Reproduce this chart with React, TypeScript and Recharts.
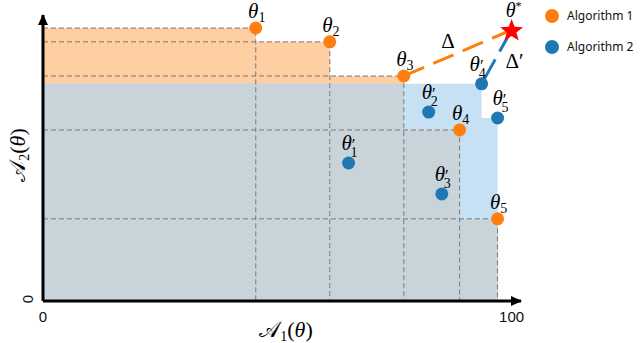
import { ComposedChart, Area, Line, Scatter, XAxis, YAxis, Legend } from "recharts"

// values (x: A1, y: A2)
const algo1Names = ["1", "2", "3", "4", "5"]
const algo1X = [45.4, 61.2, 77.0, 88.9, 97.0]
const algo1Y = [100.7, 95.6, 83.0, 63.1, 30.3]

const algo2Names = ["1", "2", "3", "4", "5"]
const algo2X = [65.2, 82.3, 85.1, 93.6, 97.0]
const algo2Y = [50.9, 69.7, 39.5, 80.1, 67.5]

const ideal = [{ x: 100, y: 100 }]
const xTicks = [0, 100]
const yTicks = [0]
const xMax = 102
const yMax = 105.5
const seriesNames = ["Algorithm 1", "Algorithm 2"]
const notes = [
  { x: 86.4, y: 93.4, text: "Δ" },
  { x: 100.6, y: 86, text: "Δ′" },
]

type Pt = { x: number; y: number; sub?: string; prime?: boolean }

const algo1: Pt[] = algo1X.map((x, i) => ({ x, y: algo1Y[i], sub: algo1Names[i], prime: false }))
const algo2: Pt[] = algo2X.map((x, i) => ({ x, y: algo2Y[i], sub: algo2Names[i], prime: true }))

// dominated region (union of boxes) as a step series; several fronts -> intersection
function staircase(fronts: Pt[][]) {
  const xs = [0, ...Array.from(new Set(fronts.flat().map((p) => p.x)))].sort((a, b) => a - b)
  const h = (f: Pt[], x: number) => Math.max(0, ...f.filter((p) => p.x > x).map((p) => p.y))
  return xs.map((x) => ({ x, y: Math.min(...fronts.map((f) => h(f, x))) }))
}

const orangeArea = staircase([algo1])
const blueArea = staircase([algo2])
const greyArea = staircase([algo1, algo2])
const guides = algo1.map((p) => [
  { x: 0, y: p.y },
  { x: p.x, y: p.y },
  { x: p.x, y: 0 },
])
const gap1 = [algo1[2], ideal[0]]
const gap2 = [algo2[3], ideal[0]]

const ORANGE = "#ff7f0e"
const BLUE = "#1f77b4"
const SERIF = "'Liberation Serif', 'DejaVu Serif', serif"
const SANS = "'Liberation Sans', Arial, sans-serif"

// small horizontal nudges for crowded labels (px)
const labelShift: Record<string, number> = { "4'": -5, "5'": 2 }

function ThetaLabel({ x, y, sub, prime }: { x: number; y: number; sub?: string; prime?: boolean }) {
  if (prime) {
    return (
      <text x={x} y={y - 13} textAnchor="middle" fontFamily={SERIF} fontSize={21} fill="#000">
        <tspan fontStyle="italic">θ</tspan>
        <tspan fontSize={17}>′</tspan>
        <tspan fontSize={14} dx={-5} dy={7}>{sub}</tspan>
      </text>
    )
  }
  return (
    <text x={x} y={y - 10} textAnchor="middle" fontFamily={SERIF} fontSize={21} fill="#000">
      <tspan fontStyle="italic">θ</tspan>
      <tspan fontSize={14} dy={4}>{sub}</tspan>
    </text>
  )
}

const dotShape = (color: string) => (props: any) => {
  const { cx, cy, payload } = props
  const shift = labelShift[payload.sub + (payload.prime ? "'" : "")] ?? 0
  return (
    <g>
      <circle cx={cx} cy={cy} r={6.5} fill={color} />
      <ThetaLabel x={cx + 1 + shift} y={cy} sub={payload.sub} prime={payload.prime} />
    </g>
  )
}

function starPath(cx: number, cy: number, R: number, r: number) {
  const pts: string[] = []
  for (let i = 0; i < 10; i++) {
    const a = -Math.PI / 2 + (i * Math.PI) / 5
    const rad = i % 2 === 0 ? R : r
    pts.push(`${cx + rad * Math.cos(a)},${cy + rad * Math.sin(a)}`)
  }
  return "M" + pts.join("L") + "Z"
}

const StarShape = (props: any) => {
  const { cx, cy } = props
  return (
    <g>
      <path d={starPath(cx, cy + 1, 12, 5)} fill="#ff0000" />
      <text x={cx + 2} y={cy - 13} textAnchor="middle" fontFamily={SERIF} fontSize={20} fill="#000">
        <tspan fontStyle="italic">θ</tspan>
        <tspan fontSize={12} dy={-7}>*</tspan>
      </text>
    </g>
  )
}

const NoteShape = (props: any) => {
  const { cx, cy, payload } = props
  return (
    <text x={cx} y={cy} textAnchor="middle" fontFamily={SERIF} fontSize={21} fill="#000">
      {payload.text}
    </text>
  )
}

const ArrowRight = (props: any) => {
  const { cx, cy } = props
  return <path d={`M${cx + 1},${cy} L${cx - 10},${cy - 5} L${cx - 10},${cy + 5} Z`} fill="#000" />
}
const ArrowUp = (props: any) => {
  const { cx, cy } = props
  return <path d={`M${cx},${cy - 1} L${cx - 5},${cy + 10} L${cx + 5},${cy + 10} Z`} fill="#000" />
}

const XTick = (props: any) => {
  const { x, y, payload } = props
  return (
    <text x={x} y={y + 21} textAnchor="middle" fontFamily={SANS} fontSize={15} fill="#111">
      {payload.value}
    </text>
  )
}

const YTick = (props: any) => {
  const { x, y, payload } = props
  const tx = x - 16
  const ty = y - 2
  return (
    <text
      x={tx}
      y={ty}
      transform={`rotate(-90 ${tx} ${ty})`}
      textAnchor="middle"
      dominantBaseline="central"
      fontFamily={SANS}
      fontSize={15}
      fill="#111"
    >
      {payload.value}
    </text>
  )
}

function AxisTitle({ x, y, sub, rotate }: { x: number; y: number; sub: string; rotate?: boolean }) {
  return (
    <text
      x={x}
      y={y}
      transform={rotate ? `rotate(-90 ${x} ${y})` : undefined}
      textAnchor="middle"
      fontFamily={SERIF}
      fontSize={22}
      fill="#000"
    >
      <tspan>𝒜</tspan>
      <tspan fontSize={14} dy={4}>{sub}</tspan>
      <tspan dy={-4}>(</tspan>
      <tspan fontStyle="italic">θ</tspan>
      <tspan>)</tspan>
    </text>
  )
}

const LegendBox = (props: any) => {
  const items = (props.payload ?? []).filter((e: any) => seriesNames.includes(e.value))
  return (
    <div style={{ fontFamily: "'Noto Sans', sans-serif", fontSize: 12, color: "#111" }}>
      {items.map((e: any) => (
        <div key={e.value} style={{ display: "flex", alignItems: "center", height: 31 }}>
          <span
            style={{
              display: "inline-block",
              width: 14,
              height: 14,
              borderRadius: 7,
              background: e.color,
              marginRight: 8,
            }}
          />
          <span>{e.value}</span>
        </div>
      ))}
    </div>
  )
}

export default function App() {
  return (
    <div style={{ position: "absolute", left: 0, top: 0, background: "#fff" }}>
      <ComposedChart width={640} height={343} margin={{ top: 15, right: 119, bottom: 0, left: 0 }}>
        <XAxis
          type="number"
          dataKey="x"
          domain={[0, xMax]}
          ticks={xTicks}
          interval={0}
          tickSize={0}
          tickMargin={0}
          tick={<XTick />}
          height={42}
          axisLine={{ stroke: "#000", strokeWidth: 3 }}
          label={(p: any) => <AxisTitle x={p.viewBox.x + 243} y={p.viewBox.y + 36} sub="1" />}
        />
        <YAxis
          type="number"
          dataKey="y"
          domain={[0, yMax]}
          ticks={yTicks}
          interval={0}
          tickSize={0}
          tickMargin={0}
          tick={<YTick />}
          width={43}
          axisLine={{ stroke: "#000", strokeWidth: 3 }}
          label={(p: any) => <AxisTitle x={p.viewBox.x + 25} y={155} sub="2" rotate />}
        />
        <Legend
          layout="vertical"
          align="center"
          verticalAlign="middle"
          wrapperStyle={{ top: 0, left: 545, width: 100 }}
          content={<LegendBox />}
        />

        <Area data={orangeArea} dataKey="y" type="stepAfter" fill="#fdcfa2" fillOpacity={1} stroke="none" legendType="none" isAnimationActive={false} />
        <Area data={blueArea} dataKey="y" type="stepAfter" fill="#c6e1f4" fillOpacity={1} stroke="none" legendType="none" isAnimationActive={false} />
        <Area data={greyArea} dataKey="y" type="stepAfter" fill="#c8d4da" fillOpacity={1} stroke="none" legendType="none" isAnimationActive={false} />

        {guides.map((g, i) => (
          <Line
            key={i}
            data={g}
            dataKey="y"
            stroke="#7a7a7a"
            strokeWidth={1}
            strokeDasharray="5 3"
            dot={false}
            activeDot={false}
            legendType="none"
            isAnimationActive={false}
          />
        ))}
        <Line data={gap1} dataKey="y" stroke={ORANGE} strokeWidth={3} strokeDasharray="22 10" dot={false} activeDot={false} legendType="none" isAnimationActive={false} />
        <Line data={gap2} dataKey="y" stroke={BLUE} strokeWidth={3} strokeDasharray="28 9" dot={false} activeDot={false} legendType="none" isAnimationActive={false} />

        <Scatter name="Algorithm 1" data={algo1} dataKey="y" fill={ORANGE} shape={dotShape(ORANGE)} isAnimationActive={false} />
        <Scatter name="Algorithm 2" data={algo2} dataKey="y" fill={BLUE} shape={dotShape(BLUE)} isAnimationActive={false} />
        <Scatter data={ideal} dataKey="y" fill="#ff0000" shape={StarShape} legendType="none" isAnimationActive={false} />
        <Scatter data={notes} dataKey="y" fill="#000" shape={NoteShape} legendType="none" isAnimationActive={false} />
        <Scatter data={[{ x: xMax, y: 0 }]} dataKey="y" fill="#000" shape={ArrowRight} legendType="none" isAnimationActive={false} />
        <Scatter data={[{ x: 0, y: yMax }]} dataKey="y" fill="#000" shape={ArrowUp} legendType="none" isAnimationActive={false} />
      </ComposedChart>
    </div>
  )
}
